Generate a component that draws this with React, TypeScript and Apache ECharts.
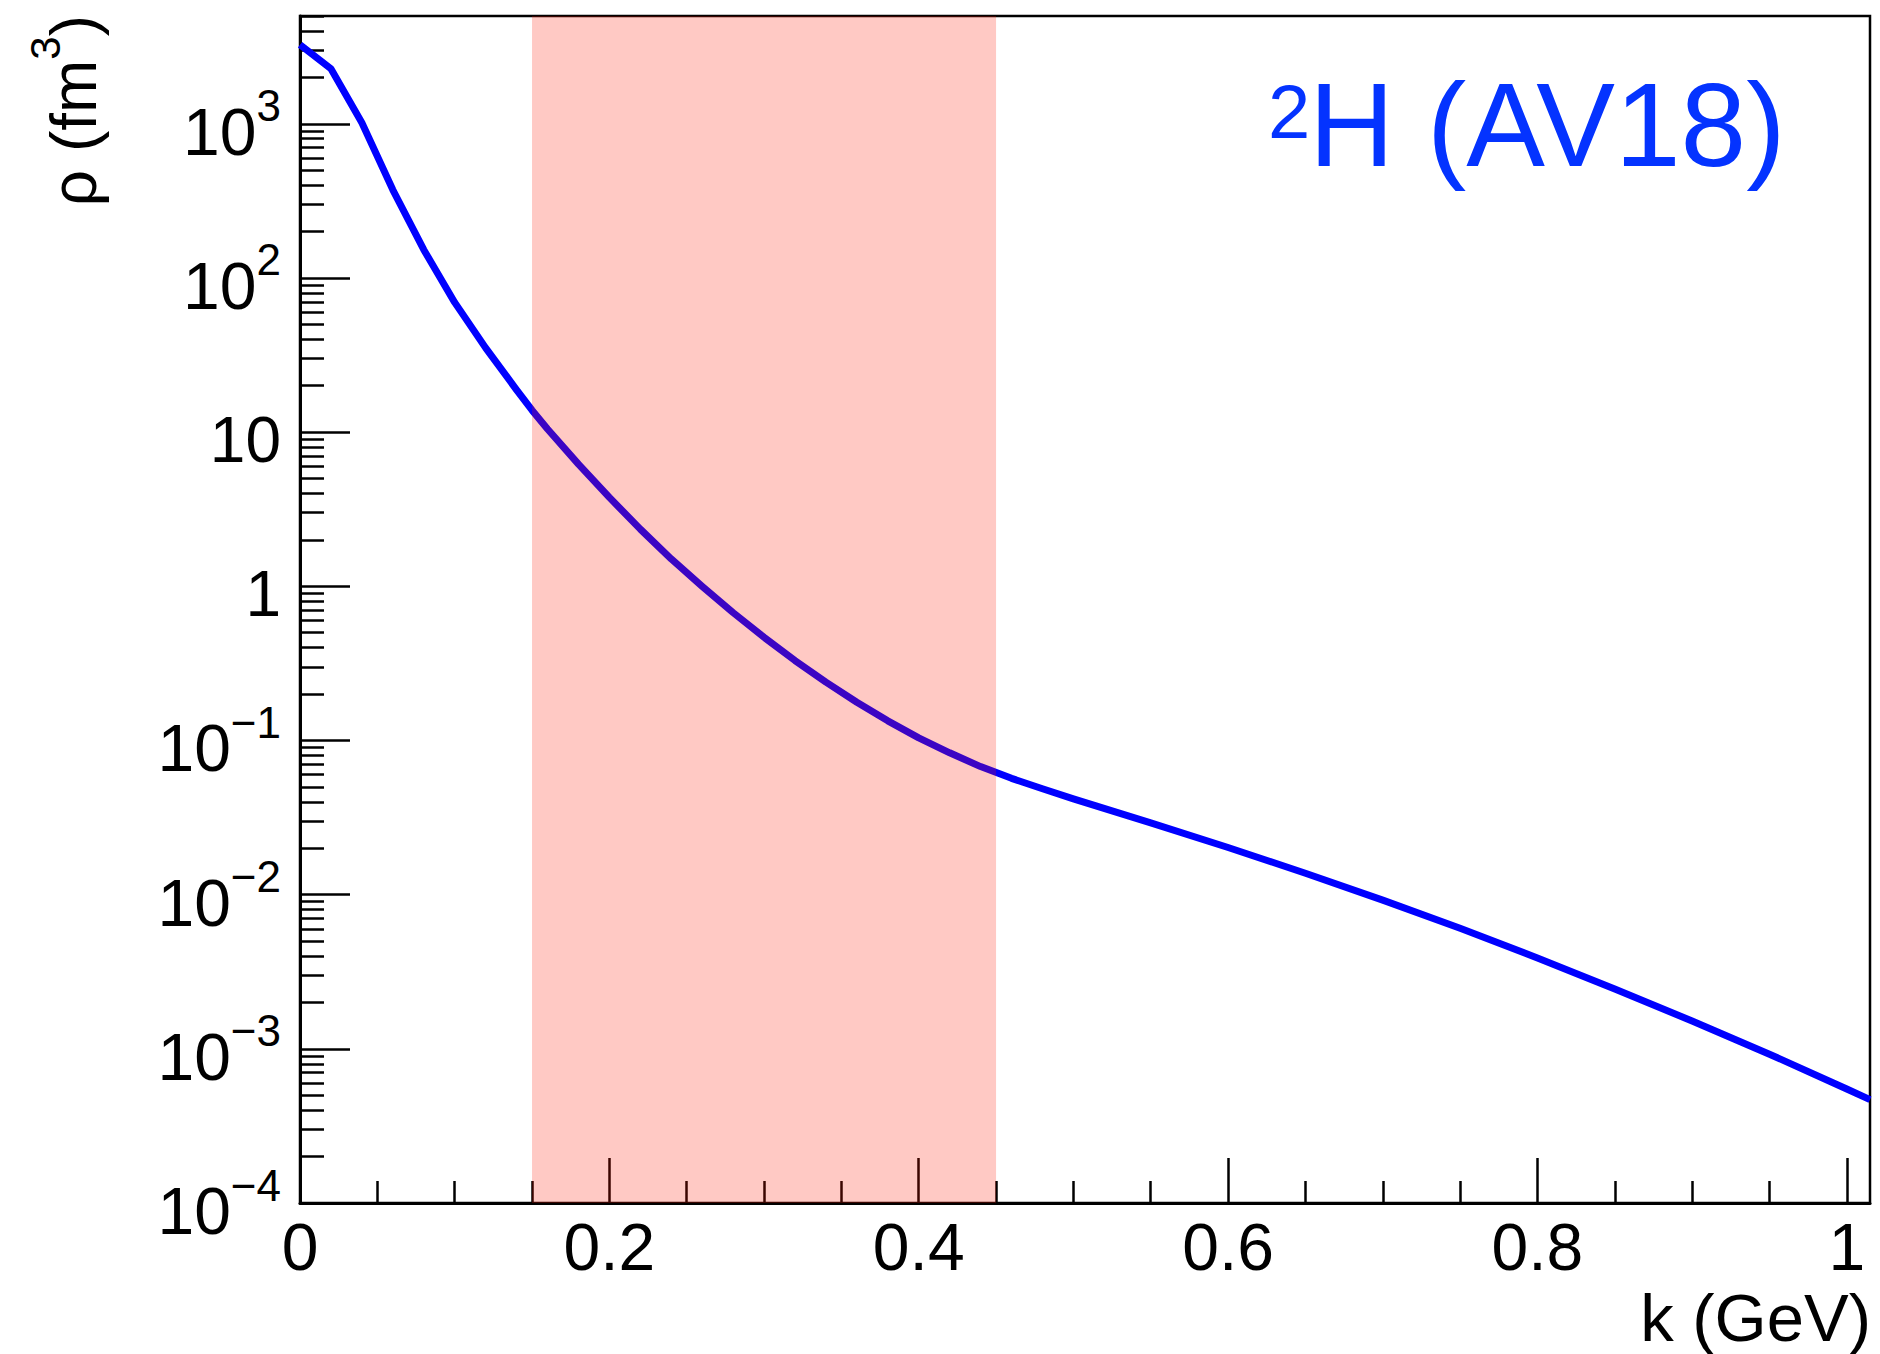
import React, { useEffect, useRef } from "react";
import * as echarts from "echarts";

// momentum k (GeV) and density rho (fm^3)
const kValues = [
  0, 0.02, 0.04, 0.06, 0.08, 0.1, 0.12, 0.14, 0.15, 0.16, 0.18, 0.2, 0.22, 0.24,
  0.26, 0.28, 0.3, 0.32, 0.34, 0.36, 0.38, 0.4, 0.42, 0.44, 0.46, 0.48, 0.5, 0.55,
  0.6, 0.65, 0.7, 0.75, 0.8, 0.85, 0.9, 0.95, 1.0, 1.015,
];
const rhoValues = [
  3250, 2273, 1016, 373, 152.5, 69.4, 35.2, 18.8, 13.87, 10.48, 6.2, 3.771, 2.348,
  1.504, 1.0, 0.6748, 0.4667, 0.3298, 0.239, 0.177, 0.1341, 0.104, 0.0832, 0.06769,
  0.0568, 0.0486, 0.04176, 0.0292, 0.02023, 0.01377, 0.00921, 0.006048, 0.003882,
  0.002446, 0.001515, 0.000923, 0.000549, 0.000468,
];

const bandRange = [0.15, 0.45];

const xMin = 0;
const xMax = 1.015;
const yMin = 1e-4;
const yMax = 5000;

const xMajorTicks = [0, 0.2, 0.4, 0.6, 0.8, 1.0];
const xMinorTicks = [
  0.05, 0.1, 0.15, 0.25, 0.3, 0.35, 0.45, 0.5, 0.55, 0.65, 0.7, 0.75, 0.85, 0.9, 0.95,
];
const yMajorTicks = [1e-4, 1e-3, 1e-2, 1e-1, 1, 10, 100, 1000];
const yMinorMultipliers = [2, 3, 4, 5, 6, 7, 8, 9];
const yDecades = [-4, -3, -2, -1, 0, 1, 2, 3];

const xTitle = "k (GeV)";
const yTitleMain = "ρ (fm";
const yTitleSup = "3";
const yTitleEnd = ")";
const tagSup = "2";
const tagMain = "H (AV18)";

const FONT = "'Liberation Sans', Arial, Helvetica, sans-serif";
const LINE_BLUE = "#0000ff";
const TAG_BLUE = "#0433ff";

function buildMinorY(): number[] {
  const out: number[] = [];
  for (const e of yDecades) {
    for (const m of yMinorMultipliers) {
      const v = Number((m * Math.pow(10, e)).toPrecision(3));
      if (v <= yMax) out.push(v);
    }
  }
  return out;
}

function yLabel(v: number): string {
  const e = Math.round(Math.log10(v));
  if (e === 0) return "{p|1}";
  if (e === 1) return "{p|10}";
  const s = e < 0 ? "\u2212" + String(-e) : String(e);
  return "{m|10}{s|" + s + "}";
}

function xLabel(v: number): string {
  return String(Number(Number(v).toFixed(2)));
}

export default function App() {
  const ref = useRef<HTMLDivElement>(null);

  useEffect(() => {
    if (!ref.current) return;
    const chart = echarts.init(ref.current, null, {
      renderer: "svg",
      width: 1880,
      height: 1354,
    });

    const curve = kValues.map((k, i) => [k, rhoValues[i]]);
    const yMinorTicks = buildMinorY();

    const tickLine = { color: "#000", width: 2.5 };

    const option: any = {
      animation: false,
      backgroundColor: "#ffffff",
      grid: {
        left: 300,
        right: 10,
        top: 16,
        bottom: 151,
        containLabel: false,
        outerBoundsMode: "none",
        show: true,
        borderColor: "#000",
        borderWidth: 2.5,
        backgroundColor: "transparent",
      },
      xAxis: [
        {
          type: "value",
          min: xMin,
          max: xMax,
          position: "bottom",
          axisLine: { show: true, onZero: false, lineStyle: { color: "#000", width: 3 } },
          axisTick: {
            show: true,
            inside: true,
            length: 45,
            customValues: xMajorTicks,
            lineStyle: tickLine,
          },
          axisLabel: {
            show: true,
            customValues: xMajorTicks,
            formatter: xLabel,
            margin: 11,
            fontSize: 66,
            fontFamily: FONT,
            color: "#000",
          },
          splitLine: { show: false },
          minorTick: { show: false },
        },
        {
          type: "value",
          min: xMin,
          max: xMax,
          position: "bottom",
          offset: 0,
          axisLine: { show: false, onZero: false },
          axisTick: {
            show: true,
            inside: true,
            length: 22,
            customValues: xMinorTicks,
            lineStyle: tickLine,
          },
          axisLabel: { show: false },
          splitLine: { show: false },
        },
      ],
      yAxis: [
        {
          type: "log",
          logBase: 10,
          min: yMin,
          max: yMax,
          position: "left",
          axisLine: { show: true, onZero: false, lineStyle: { color: "#000", width: 3 } },
          axisTick: {
            show: true,
            inside: true,
            length: 50,
            customValues: yMajorTicks,
            lineStyle: tickLine,
          },
          axisLabel: {
            show: true,
            customValues: yMajorTicks,
            formatter: yLabel,
            margin: 19,
            padding: [16, 0, 0, 0],
            color: "#000",
            fontFamily: FONT,
            rich: {
              m: { fontSize: 66, lineHeight: 96, fontFamily: FONT, color: "#000" },
              p: { fontSize: 64, lineHeight: 96, fontFamily: FONT, color: "#000" },
              s: {
                fontSize: 44,
                lineHeight: 44,
                verticalAlign: "top",
                fontFamily: FONT,
                color: "#000",
              },
            },
          },
          splitLine: { show: false },
          minorTick: { show: false },
        },
        {
          type: "log",
          logBase: 10,
          min: yMin,
          max: yMax,
          position: "left",
          offset: 0,
          axisLine: { show: false, onZero: false },
          axisTick: {
            show: true,
            inside: true,
            length: 24,
            customValues: yMinorTicks,
            lineStyle: tickLine,
          },
          axisLabel: { show: false },
          splitLine: { show: false },
        },
      ],
      series: [
        {
          type: "line",
          name: "rho",
          xAxisIndex: 0,
          yAxisIndex: 0,
          data: curve,
          showSymbol: false,
          symbol: "none",
          smooth: false,
          clip: true,
          z: 2,
          lineStyle: { color: LINE_BLUE, width: 7, join: "round", cap: "butt" },
          silent: true,
        },
        {
          type: "line",
          name: "band",
          xAxisIndex: 0,
          yAxisIndex: 0,
          data: [
            [bandRange[0], 1],
            [bandRange[1], 1],
          ],
          showSymbol: false,
          symbol: "none",
          lineStyle: { opacity: 0, width: 0 },
          silent: true,
          z: 10,
          markArea: {
            silent: true,
            z: 10,
            itemStyle: { color: "rgba(255,20,0,0.23)", borderWidth: 0 },
            label: { show: false },
            data: [[{ xAxis: bandRange[0] }, { xAxis: bandRange[1] }]],
          },
        },
      ],
      graphic: [
        {
          type: "group",
          x: 96,
          y: 15,
          rotation: Math.PI / 2,
          children: [
            {
              type: "text",
              x: 0,
              y: -72,
              style: {
                text:
                  "{a|" + yTitleMain + "}{s|" + yTitleSup + "}{a|" + yTitleEnd + "}",
                align: "right",
                verticalAlign: "top",
                fill: "#000",
                rich: {
                  a: { fontSize: 64, lineHeight: 99, fontFamily: FONT, fill: "#000" },
                  s: {
                    fontSize: 42,
                    lineHeight: 42,
                    verticalAlign: "top",
                    fontFamily: FONT,
                    fill: "#000",
                  },
                },
              },
            },
          ],
        },
        {
          type: "text",
          x: 1871,
          y: 1317,
          style: {
            text: xTitle,
            align: "right",
            verticalAlign: "middle",
            fontSize: 67,
            fontFamily: FONT,
            fill: "#000",
          },
        },
        {
          type: "text",
          x: 1268,
          y: 111,
          style: {
            text: tagSup,
            align: "left",
            verticalAlign: "middle",
            fontSize: 76,
            fontFamily: FONT,
            fill: TAG_BLUE,
          },
        },
        {
          type: "text",
          x: 1309,
          y: 124.5,
          style: {
            text: tagMain,
            align: "left",
            verticalAlign: "middle",
            fontSize: 118,
            fontFamily: FONT,
            fill: TAG_BLUE,
          },
        },
      ],
    };

    chart.setOption(option);
    return () => {
      chart.dispose();
    };
  }, []);

  return (
    <div
      ref={ref}
      style={{
        position: "absolute",
        left: 0,
        top: 0,
        width: 1880,
        height: 1354,
        background: "#fff",
      }}
    />
  );
}
